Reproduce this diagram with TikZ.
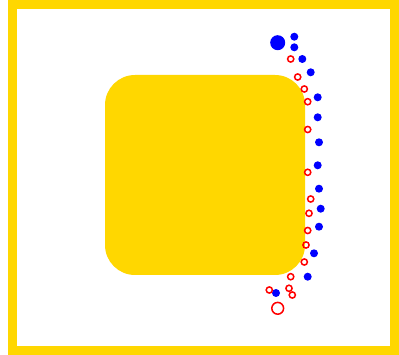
\documentclass[tikz,border=0pt]{standalone}
\definecolor{gold}{RGB}{255,215,0}
\definecolor{pblue}{RGB}{0,0,255}
\definecolor{pred}{RGB}{255,0,0}
\begin{document}
\begin{tikzpicture}[x=1pt,y=-1pt,
  bdot/.style={fill=pblue},
  rring/.style={draw=pred,line width=1.5pt}]
\useasboundingbox (0,0) rectangle (399,355);
\fill[white] (0,0) rectangle (399,355);
\draw[gold,line width=9pt] (12.5,4.5) rectangle (394.5,350.5);
\fill[gold,rounded corners=30pt] (105,75) rectangle (305,275);
% blue dots
\fill[bdot] (277.7,42.7) circle (7.5);
\foreach \p in {(294.3,36.7),(294.3,47.3),(302.3,59),(310.7,72.3),(317.7,97.3),(317.7,117.3),(319,142.3),(317.7,165.3),(319,188.7),(320.7,208.7),(319,226.7),(314,253.3),(307.7,276.7),(276,293)}
  \fill[bdot] \p circle (4);
% red rings
\foreach \p in {(290.7,59),(297.7,77),(304.3,89),(307.7,101.7),(307.7,129.5),(307.7,172.3),(310.7,199),(309,213.3),(307.7,230.5),(306,245),(304.3,262),(290.7,276.7),(269.3,290),(289,288.3),(292.3,295)}
  \draw[rring] \p circle (3.1);
\draw[rring] (277.7,308.3) circle (5.9);
\end{tikzpicture}
\end{document}
